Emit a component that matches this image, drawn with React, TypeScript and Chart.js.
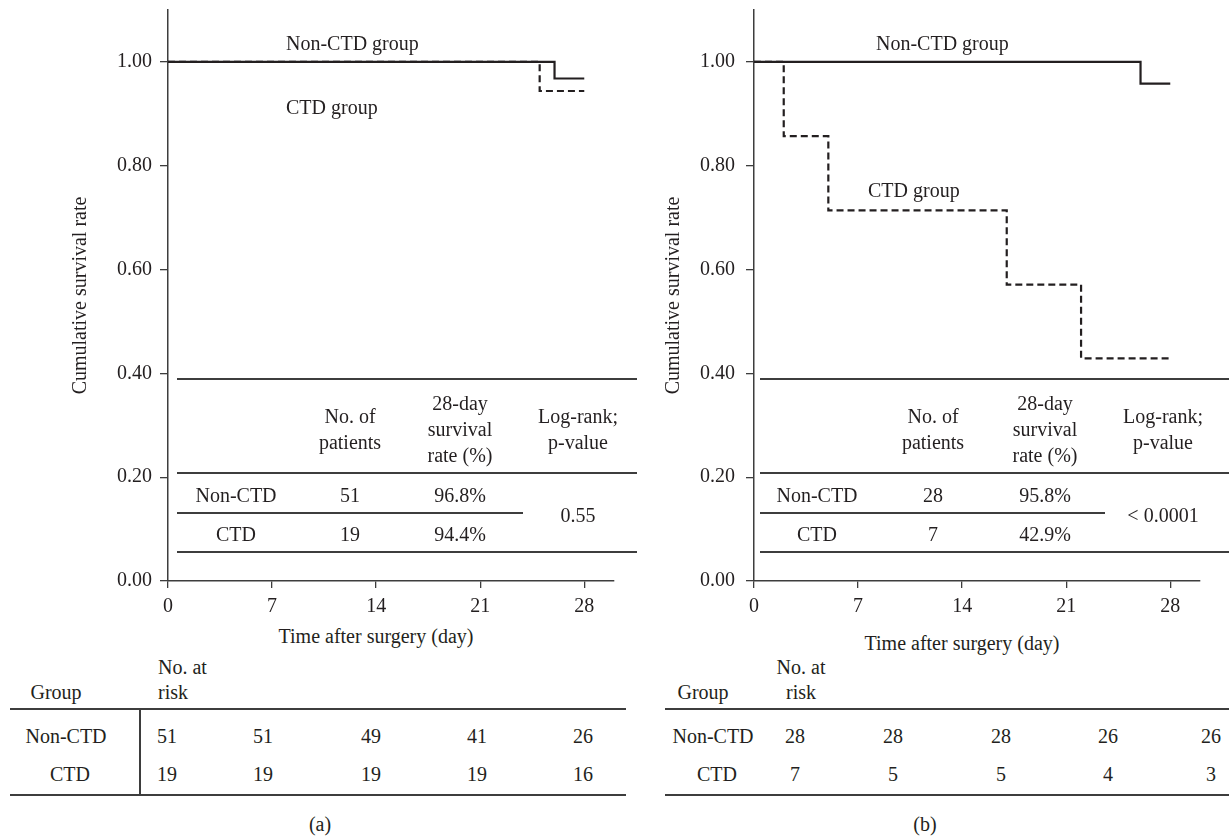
import React, { useEffect, useRef } from 'react';
import { Chart, registerables } from 'chart.js';
Chart.register(...registerables);

// ---------- data ----------
const dayTicks = [0, 7, 14, 21, 28];
const survTicks = [0, 0.2, 0.4, 0.6, 0.8, 1.0];

// panel (a)
const aNonCtdDays = [0, 26, 28];
const aNonCtdSurv = [1, 0.968, 0.968];
const aCtdDays = [0, 25, 28];
const aCtdSurv = [1, 0.944, 0.944];

// panel (b)
const bNonCtdDays = [0, 26, 28];
const bNonCtdSurv = [1, 0.958, 0.958];
const bCtdDays = [0, 2, 5, 17, 22, 28];
const bCtdSurv = [1, 0.857, 0.714, 0.571, 0.429, 0.429];

const groups = ['Non-CTD', 'CTD'];
const aPatients = [51, 19];
const aRate = ['96.8%', '94.4%'];
const aPValue = '0.55';
const bPatients = [28, 7];
const bRate = ['95.8%', '42.9%'];
const bPValue = '< 0.0001';

const aRiskNonCtd = [51, 51, 49, 41, 26];
const aRiskCtd = [19, 19, 19, 19, 16];
const bRiskNonCtd = [28, 28, 28, 26, 26];
const bRiskCtd = [7, 5, 5, 4, 3];

// ---------- style ----------
const INK = '#231f20';
const AXIS = '#3d3d3d';
const FONT_FAMILY = '"Liberation Serif", "Times New Roman", serif';
const FS = 20;
const AREA_BOTTOM = 581;
const CANVAS_H = 625;

type KMProps = {
  left: number; width: number; padLeft: number; yWidth: number; padRight: number; tickPad: number;
  nonDays: number[]; nonSurv: number[]; ctdDays: number[]; ctdSurv: number[];
};

function KMChart(p: KMProps) {
  const ref = useRef<HTMLCanvasElement>(null);
  useEffect(() => {
    const font = { family: FONT_FAMILY, size: FS };
    const chart = new Chart(ref.current!, {
      type: 'line',
      data: {
        datasets: [
          {
            data: p.nonDays.map((d, i) => ({ x: d, y: p.nonSurv[i] })),
            borderColor: INK, borderWidth: 2.2, stepped: 'before', pointRadius: 0, fill: false,
          },
          {
            data: p.ctdDays.map((d, i) => ({ x: d, y: p.ctdSurv[i] })),
            borderColor: INK, borderWidth: 2.2, borderDash: [7, 4], stepped: 'before', pointRadius: 0, fill: false,
          },
        ],
      },
      options: {
        animation: false,
        responsive: false,
        maintainAspectRatio: false,
        events: [],
        layout: { padding: { left: p.padLeft, top: 10, right: p.padRight, bottom: 0 } },
        plugins: { legend: { display: false }, tooltip: { enabled: false } },
        scales: {
          x: {
            type: 'linear', min: 0, max: 30,
            afterBuildTicks: (ax: any) => { ax.ticks = dayTicks.map((v) => ({ value: v })); },
            afterFit: (ax: any) => { ax.height = CANVAS_H - AREA_BOTTOM; ax.paddingLeft = 0; ax.paddingRight = 0; },
            ticks: { font, color: INK, padding: 7, maxRotation: 0, autoSkip: false, callback: (v: any) => String(v) },
            grid: { drawOnChartArea: false, drawTicks: true, tickLength: 7, color: AXIS, lineWidth: 1.3 },
            border: { display: true, color: AXIS, width: 1.5 },
          },
          y: {
            type: 'linear', min: 0, max: 1.1,
            afterBuildTicks: (ax: any) => { ax.ticks = survTicks.map((v) => ({ value: v })); },
            afterFit: (ax: any) => { ax.width = p.yWidth; ax.paddingTop = 0; ax.paddingBottom = 0; },
            ticks: { font, color: INK, padding: p.tickPad, autoSkip: false, callback: (v: any) => Number(v).toFixed(2) },
            grid: { drawOnChartArea: false, drawTicks: true, tickLength: 8, color: AXIS, lineWidth: 1.3 },
            border: { display: true, color: AXIS, width: 1.5 },
            title: { display: true, text: 'Cumulative survival rate', font, color: INK, padding: 0 },
          },
        },
      } as any,
    });
    return () => chart.destroy();
  }, []);
  return (
    <canvas ref={ref} width={p.width} height={CANVAS_H}
      style={{ position: 'absolute', left: p.left, top: 0, width: p.width, height: CANVAS_H }} />
  );
}

// ---------- overlay helpers ----------
const T = ({ x, y, children, align = 'center' }: any) => (
  <div style={{
    position: 'absolute', left: x, top: y,
    transform: align === 'center' ? 'translate(-50%, -50%)' : 'translate(0, -50%)',
    whiteSpace: 'nowrap', lineHeight: 1, fontFamily: FONT_FAMILY, fontSize: FS, color: INK,
  }}>{children}</div>
);
const H = ({ x1, x2, y }: any) => (
  <div style={{ position: 'absolute', left: x1, top: y - 0.75, width: x2 - x1, height: 1.5, background: AXIS }} />
);
const V = ({ x, y1, y2 }: any) => (
  <div style={{ position: 'absolute', left: x - 0.75, top: y1, width: 1.5, height: y2 - y1, background: AXIS }} />
);

type TableLayout = { left: number; right: number; midRight: number; cols: number[] };

function SummaryTable({ lay, patients, rate, pValue }: { lay: TableLayout; patients: number[]; rate: string[]; pValue: string }) {
  const [cG, cN, cR, cP] = lay.cols;
  const rows = [495, 534];
  return (
    <>
      <H x1={lay.left} x2={lay.right} y={379} />
      <T x={cN} y={416}>No. of</T>
      <T x={cN} y={442}>patients</T>
      <T x={cR} y={403}>28-day</T>
      <T x={cR} y={429}>survival</T>
      <T x={cR} y={455}>rate (%)</T>
      <T x={cP} y={416}>Log-rank;</T>
      <T x={cP} y={442}>p-value</T>
      <H x1={lay.left} x2={lay.right} y={473} />
      {groups.map((g, i) => (
        <React.Fragment key={g}>
          <T x={cG} y={rows[i]}>{g}</T>
          <T x={cN} y={rows[i]}>{patients[i]}</T>
          <T x={cR} y={rows[i]}>{rate[i]}</T>
        </React.Fragment>
      ))}
      <H x1={lay.left} x2={lay.midRight} y={513} />
      <T x={cP} y={515}>{pValue}</T>
      <H x1={lay.left} x2={lay.right} y={552} />
    </>
  );
}

type RiskLayout = {
  lineLeft: number; lineRight: number; groupX: number; nameX: number[]; noAtX: number; noAtAlign: string;
  numX: number[]; vline?: number; titleX: number; titleY: number; tagX: number; tag: string;
};

function RiskTable({ lay, non, ctd }: { lay: RiskLayout; non: number[]; ctd: number[] }) {
  const rowY = [736, 774];
  return (
    <>
      <T x={lay.titleX} y={lay.titleY}>Time after surgery (day)</T>
      <T x={lay.noAtX} y={667} align={lay.noAtAlign}>No. at</T>
      <T x={lay.noAtX} y={692} align={lay.noAtAlign}>risk</T>
      <T x={lay.groupX} y={692}>Group</T>
      <H x1={lay.lineLeft} x2={lay.lineRight} y={709} />
      {lay.vline !== undefined && <V x={lay.vline} y1={709} y2={795} />}
      {[non, ctd].map((vals, r) => (
        <React.Fragment key={r}>
          <T x={lay.nameX[r]} y={rowY[r]}>{groups[r]}</T>
          {vals.map((v, i) => <T key={i} x={lay.numX[i]} y={rowY[r]}>{v}</T>)}
        </React.Fragment>
      ))}
      <H x1={lay.lineLeft} x2={lay.lineRight} y={795} />
      <T x={lay.tagX} y={824}>{lay.tag}</T>
    </>
  );
}

export default function App() {
  useEffect(() => { document.body.style.margin = '0'; }, []);
  return (
    <div style={{ position: 'absolute', left: 0, top: 0, width: 1229, height: 836, background: '#fff', overflow: 'hidden' }}>
      <KMChart left={0} width={615} padLeft={69} yWidth={99} padRight={1} tickPad={8}
        nonDays={aNonCtdDays} nonSurv={aNonCtdSurv} ctdDays={aCtdDays} ctdSurv={aCtdSurv} />
      <KMChart left={615} width={614} padLeft={47} yWidth={92} padRight={29} tickPad={11}
        nonDays={bNonCtdDays} nonSurv={bNonCtdSurv} ctdDays={bCtdDays} ctdSurv={bCtdSurv} />

      <T x={286} y={43} align="left">Non-CTD group</T>
      <T x={286} y={107} align="left">CTD group</T>
      <T x={876} y={43} align="left">Non-CTD group</T>
      <T x={868} y={190} align="left">CTD group</T>

      <SummaryTable lay={{ left: 177, right: 637, midRight: 523, cols: [236, 350, 460, 578] }}
        patients={aPatients} rate={aRate} pValue={aPValue} />
      <SummaryTable lay={{ left: 760, right: 1229, midRight: 1105, cols: [817, 933, 1045, 1163] }}
        patients={bPatients} rate={bRate} pValue={bPValue} />

      <RiskTable lay={{ lineLeft: 10, lineRight: 626, groupX: 56, nameX: [66, 70], noAtX: 158, noAtAlign: 'left',
        numX: [167, 263, 371, 477, 583], vline: 140, titleX: 376, titleY: 636, tagX: 320, tag: '(a)' }}
        non={aRiskNonCtd} ctd={aRiskCtd} />
      <RiskTable lay={{ lineLeft: 665, lineRight: 1229, groupX: 703, nameX: [713, 717], noAtX: 801, noAtAlign: 'center',
        numX: [795, 893, 1001, 1108, 1211], titleX: 962, titleY: 643, tagX: 925, tag: '(b)' }}
        non={bRiskNonCtd} ctd={bRiskCtd} />
    </div>
  );
}
